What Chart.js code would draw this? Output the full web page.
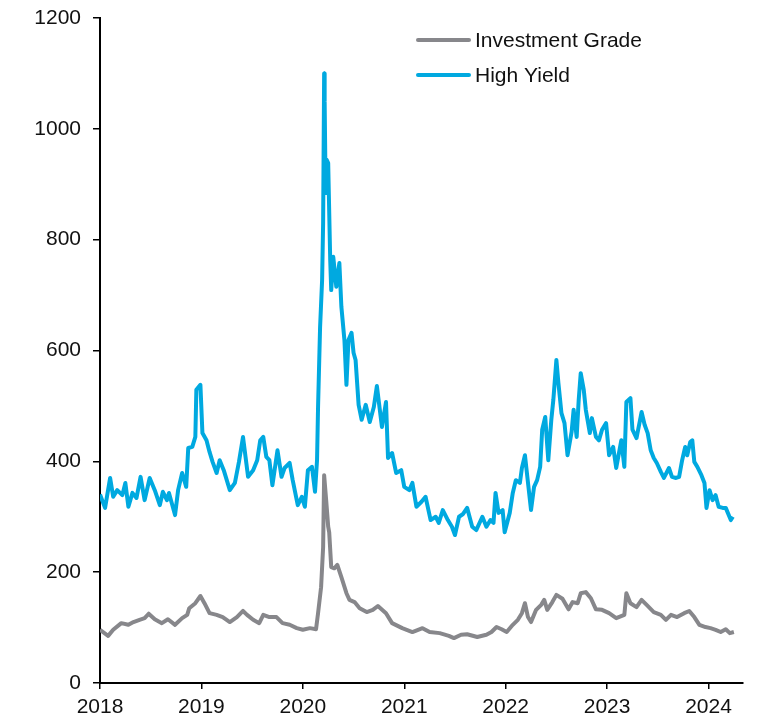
<!DOCTYPE html>
<html>
<head>
<meta charset="utf-8">
<script src="https://cdn.jsdelivr.net/npm/chart.js@4.4.1/dist/chart.umd.min.js"></script>
<style>
  html, body { margin: 0; padding: 0; background: #fff; }
  #c { display: block; }
</style>
</head>
<body>
<canvas id="c" width="759" height="718"></canvas>
<script>
// ---- Data ----
const seriesNames = ['Investment Grade', 'High Yield'];
const xTickYears = [2018, 2019, 2020, 2021, 2022, 2023, 2024];
const yTickValues = [0, 200, 400, 600, 800, 1000, 1200];

const hyDates = [
  2018.00, 2018.05, 2018.10, 2018.13, 2018.17, 2018.22, 2018.25, 2018.28, 2018.32, 2018.36,
  2018.40, 2018.44, 2018.49, 2018.54, 2018.59, 2018.62, 2018.66, 2018.68, 2018.74, 2018.77,
  2018.81, 2018.85, 2018.87, 2018.91, 2018.94, 2018.95, 2018.99, 2019.01, 2019.05, 2019.08,
  2019.11, 2019.15, 2019.18, 2019.22, 2019.28, 2019.33, 2019.37, 2019.41, 2019.46, 2019.51,
  2019.55, 2019.58, 2019.61, 2019.64, 2019.67, 2019.70, 2019.75, 2019.79, 2019.82, 2019.87,
  2019.90, 2019.95, 2019.99, 2020.02, 2020.05, 2020.09, 2020.12, 2020.14, 2020.15, 2020.17,
  2020.19, 2020.20, 2020.21, 2020.215, 2020.225, 2020.235, 2020.25, 2020.27, 2020.28, 2020.30,
  2020.33, 2020.36, 2020.38, 2020.41, 2020.43, 2020.45, 2020.48, 2020.50, 2020.52, 2020.55,
  2020.58, 2020.62, 2020.66, 2020.70, 2020.73, 2020.78, 2020.82, 2020.84, 2020.88, 2020.92,
  2020.97, 2021.00, 2021.05, 2021.08, 2021.12, 2021.17, 2021.21, 2021.26, 2021.31, 2021.34,
  2021.38, 2021.43, 2021.47, 2021.50, 2021.54, 2021.58, 2021.62, 2021.67, 2021.71, 2021.77,
  2021.81, 2021.85, 2021.88, 2021.90, 2021.93, 2021.97, 2021.99, 2022.04, 2022.07, 2022.10,
  2022.14, 2022.16, 2022.19, 2022.25, 2022.28, 2022.31, 2022.34, 2022.36, 2022.39, 2022.42,
  2022.45, 2022.47, 2022.50, 2022.52, 2022.55, 2022.58, 2022.61, 2022.65, 2022.67, 2022.70,
  2022.72, 2022.74, 2022.77, 2022.79, 2022.83, 2022.85, 2022.89, 2022.92, 2022.95, 2022.99,
  2023.02, 2023.06, 2023.09, 2023.14, 2023.17, 2023.19, 2023.23, 2023.25, 2023.29, 2023.34,
  2023.37, 2023.40, 2023.43, 2023.46, 2023.49, 2023.53, 2023.56, 2023.61, 2023.64, 2023.68,
  2023.71, 2023.74, 2023.77, 2023.79, 2023.82, 2023.84, 2023.86, 2023.89, 2023.93, 2023.96,
  2023.98, 2024.01, 2024.04, 2024.07, 2024.10, 2024.14, 2024.17, 2024.22, 2024.24
];
const hyValues = [
  340, 316, 370, 336, 348, 339, 361, 318, 343, 334,
  372, 330, 370, 348, 321, 345, 330, 343, 303, 348,
  379, 354, 424, 426, 444, 529, 538, 451, 438, 417,
  399, 379, 402, 384, 348, 361, 399, 444, 372, 384,
  402, 438, 444, 408, 402, 357, 420, 372, 388, 397,
  366, 321, 336, 318, 384, 390, 345, 402, 498, 642,
  727, 830, 1100, 1050, 884, 944, 938, 763, 709, 769,
  715, 758, 679, 619, 538, 619, 632, 596, 583, 502,
  475, 502, 471, 498, 536, 462, 507, 406, 415, 379,
  384, 354, 348, 361, 318, 327, 336, 294, 300, 289,
  312, 294, 282, 267, 300, 305, 316, 282, 276, 300,
  282, 294, 289, 343, 307, 312, 272, 307, 343, 366,
  361, 388, 411, 312, 354, 366, 390, 457, 480, 402,
  475, 511, 583, 541, 487, 469, 411, 453, 493, 444,
  511, 559, 529, 493, 451, 478, 444, 438, 457, 469,
  411, 426, 388, 438, 390, 507, 514, 457, 442, 489,
  466, 451, 420, 406, 397, 381, 370, 388, 372, 370,
  372, 402, 426, 411, 435, 438, 399, 390, 375, 361,
  316, 348, 330, 339, 318, 316, 316, 294, 300
];

const igDates = [
  2018.00, 2018.08, 2018.13, 2018.21, 2018.28, 2018.33, 2018.39, 2018.44, 2018.48, 2018.54,
  2018.61, 2018.67, 2018.74, 2018.81, 2018.86, 2018.88, 2018.94, 2018.99, 2019.03, 2019.08,
  2019.15, 2019.21, 2019.28, 2019.35, 2019.41, 2019.45, 2019.51, 2019.57, 2019.61, 2019.67,
  2019.74, 2019.80, 2019.87, 2019.94, 2020.00, 2020.07, 2020.13, 2020.15, 2020.18, 2020.20,
  2020.21, 2020.23, 2020.25, 2020.26, 2020.28, 2020.31, 2020.34, 2020.38, 2020.43, 2020.46,
  2020.51, 2020.56, 2020.63, 2020.69, 2020.74, 2020.82, 2020.88, 2020.98, 2021.08, 2021.18,
  2021.25, 2021.35, 2021.44, 2021.49, 2021.56, 2021.62, 2021.72, 2021.81, 2021.86, 2021.91,
  2021.96, 2022.01, 2022.07, 2022.12, 2022.16, 2022.19, 2022.22, 2022.25, 2022.30, 2022.35,
  2022.38, 2022.41, 2022.46, 2022.50, 2022.56, 2022.62, 2022.66, 2022.71, 2022.74, 2022.79,
  2022.84, 2022.89, 2022.95, 2023.02, 2023.09, 2023.17, 2023.19, 2023.23, 2023.29, 2023.34,
  2023.39, 2023.46, 2023.53, 2023.58, 2023.63, 2023.69, 2023.76, 2023.81, 2023.86, 2023.91,
  2023.97, 2024.02, 2024.07, 2024.12, 2024.17, 2024.21, 2024.25
];
const igValues = [
  96, 85, 96, 108, 105, 110, 114, 117, 125, 115,
  108, 115, 105, 117, 123, 135, 144, 157, 144, 126,
  123, 119, 110, 119, 130, 123, 114, 108, 123, 119,
  119, 108, 105, 99, 96, 99, 97, 126, 173, 245,
  375, 330, 282, 272, 209, 207, 213, 191, 162, 150,
  146, 135, 128, 132, 139, 126, 108, 99, 92, 99,
  92, 90, 85, 81, 87, 88, 83, 87, 92, 101,
  97, 92, 105, 114, 126, 144, 119, 110, 132, 141,
  150, 132, 146, 159, 152, 133, 146, 144, 162, 164,
  153, 133, 132, 126, 117, 123, 162, 144, 137, 150,
  141, 128, 123, 114, 123, 119, 126, 130, 119, 105,
  101, 99, 96, 92, 97, 90, 92
];

// ---- Styles ----
const IG_COLOR = '#87878b';
const HY_COLOR = '#00a9e0';
const FONT_FAMILY = '"Liberation Sans", Arial, Helvetica, sans-serif';
const TEXT_COLOR = '#111111';

const toPoints = (xs, ys) => xs.map((x, i) => ({ x: x, y: ys[i] }));

const legendPlugin = {
  id: 'lineLegend',
  afterDraw(chart) {
    const ctx = chart.ctx;
    const items = chart.data.datasets;
    ctx.save();
    ctx.font = '21px ' + FONT_FAMILY;
    ctx.textBaseline = 'middle';
    ctx.textAlign = 'left';
    items.forEach((ds, i) => {
      const cy = 40 + i * 35;
      ctx.strokeStyle = ds.borderColor;
      ctx.lineWidth = 4;
      ctx.lineCap = 'round';
      ctx.beginPath();
      ctx.moveTo(418, cy);
      ctx.lineTo(469, cy);
      ctx.stroke();
      ctx.fillStyle = TEXT_COLOR;
      ctx.fillText(ds.label, 475, cy + 1);
    });
    ctx.restore();
  }
};

new Chart(document.getElementById('c'), {
  type: 'line',
  data: {
    datasets: [
      { label: seriesNames[0], data: toPoints(igDates, igValues), borderColor: IG_COLOR,
        borderWidth: 4, pointRadius: 0, tension: 0, fill: false, borderJoinStyle: 'round' },
      { label: seriesNames[1], data: toPoints(hyDates, hyValues), borderColor: HY_COLOR,
        borderWidth: 4, pointRadius: 0, tension: 0, fill: false, borderJoinStyle: 'round' }
    ]
  },
  options: {
    responsive: false,
    animation: false,
    layout: { padding: { left: 0, right: 16, top: 18, bottom: 0 } },
    plugins: { legend: { display: false }, tooltip: { enabled: false } },
    scales: {
      x: {
        type: 'linear', min: 2018, max: 2024.34,
        afterBuildTicks: s => { s.ticks = xTickYears.map(v => ({ value: v })); },
        afterFit: s => { s.height = 35; s.paddingLeft = 0; s.paddingRight = 0; },
        ticks: { callback: v => String(v), color: TEXT_COLOR, font: { size: 21, family: FONT_FAMILY },
                 padding: 6, maxRotation: 0, autoSkip: false },
        grid: { drawOnChartArea: false, drawTicks: true, tickLength: 6, color: '#000', lineWidth: 1.5 },
        border: { display: true, color: '#000', width: 2 }
      },
      y: {
        type: 'linear', min: 0, max: 1200,
        afterBuildTicks: s => { s.ticks = yTickValues.map(v => ({ value: v })); },
        afterFit: s => { s.width = 100; s.paddingTop = 0; s.paddingBottom = 0; },
        ticks: { callback: v => String(v), color: TEXT_COLOR, font: { size: 21, family: FONT_FAMILY },
                 padding: 12, autoSkip: false },
        grid: { drawOnChartArea: false, drawTicks: true, tickLength: 7, color: '#000', lineWidth: 1.5 },
        border: { display: true, color: '#000', width: 2 }
      }
    }
  },
  plugins: [legendPlugin]
});
</script>
</body>
</html>
